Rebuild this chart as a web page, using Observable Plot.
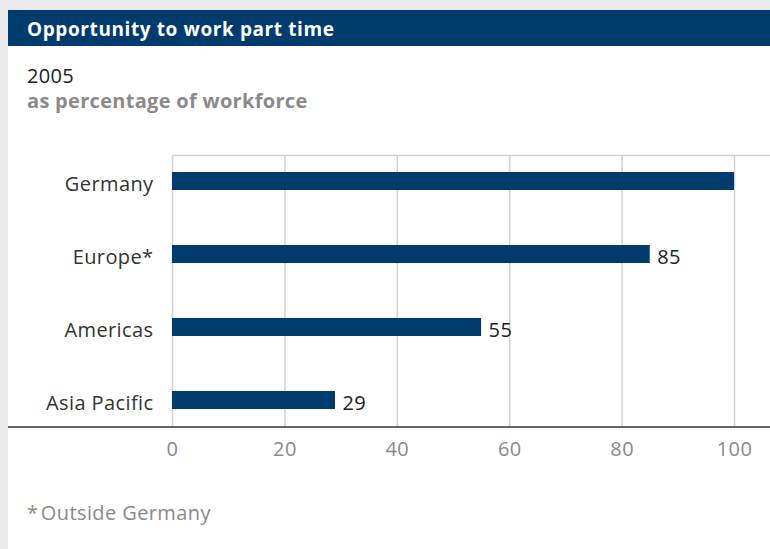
<!DOCTYPE html>
<html>
<head>
<meta charset="utf-8">
<script src="https://cdn.jsdelivr.net/npm/d3@7"></script>
<script src="https://cdn.jsdelivr.net/npm/@observablehq/plot@0.6"></script>
<style>
  html, body { margin: 0; padding: 0; }
  body { width: 770px; height: 549px; background: #ebebed; position: relative; overflow: hidden; font-family: "Open Sans", sans-serif; }
  #panel { position: absolute; left: 8px; top: 10px; width: 762px; height: 539px; background: #fff; }
  #titlebar { position: absolute; left: 8px; top: 10px; width: 762px; height: 36px; background: #003b6e; }
  .t { position: absolute; white-space: nowrap; }
  #title { left: 27px; top: 19.5px; font-size: 19px; line-height: 19px; font-weight: 700; color: #fff; letter-spacing: 0.6px; }
  #sub1 { left: 27px; top: 66px; font-size: 20px; line-height: 20px; color: #222; letter-spacing: 0.3px; }
  #sub2 { left: 27px; top: 91px; font-size: 20px; line-height: 20px; font-weight: 700; color: #8a8a8a; letter-spacing: 0.3px; }
  #foot { left: 27px; top: 503px; font-size: 20px; line-height: 20px; color: #8a8a8a; letter-spacing: 0.4px; }
  #chart { position: absolute; left: 8px; top: 130px; }
</style>
</head>
<body>
<div id="panel"></div>
<div id="titlebar"></div>
<div class="t" id="title">Opportunity to work part time</div>
<div class="t" id="sub1">2005</div>
<div class="t" id="sub2">as percentage of workforce</div>
<div id="chart"></div>
<div class="t" id="foot">*&#8202;Outside Germany</div>
<script>
const regions = ["Germany", "Europe*", "Americas", "Asia Pacific"];
const values = [100, 85, 55, 29];
const valueLabels = ["", "85", "55", "29"];
const xTicks = [0, 20, 40, 60, 80, 100];

const data = regions.map((r, i) => ({region: r, value: values[i], label: valueLabels[i]}));

const W = 762, H = 340, mT = 25, mB = 43, mL = 164, mR = 0;
const barColor = "#003b6e";

const chart = Plot.plot({
  width: W,
  height: H,
  marginTop: mT,
  marginBottom: mB,
  marginLeft: mL,
  marginRight: mR,
  style: {fontFamily: "'Open Sans', sans-serif", fontSize: "20px", background: "transparent", overflow: "visible", letterSpacing: "0.4px"},
  x: {domain: [0, 106.4], ticks: xTicks, label: null},
  y: {domain: regions, paddingInner: 0.75, paddingOuter: 0.23, label: null},
  marks: [
    Plot.ruleX(xTicks, {stroke: "#d2d2d2", strokeWidth: 1.5}),
    Plot.frame({anchor: "top", stroke: "#d2d2d2", strokeWidth: 1.5}),
    Plot.barX(data, {x: "value", y: "region", fill: barColor}),
    Plot.text(data.filter(d => d.label !== ""), {x: "value", y: "region", text: "label", dx: 7, dy: 3, textAnchor: "start", fill: "#222", fontSize: 20}),
    Plot.axisX({ticks: xTicks, tickSize: 0, tickPadding: 14, fill: "#8a8a8a", fontSize: 20, tickFormat: d => String(d)}),
    Plot.axisY({tickSize: 0, tickPadding: 19, fill: "#333", fontSize: 20, dy: 3})
  ]
});

// full-width baseline under the plot area
d3.select(chart).append("line")
  .attr("x1", 0).attr("x2", W)
  .attr("y1", H - mB).attr("y2", H - mB)
  .attr("stroke", "#333").attr("stroke-width", 1.5);

document.getElementById("chart").appendChild(chart);
</script>
</body>
</html>
